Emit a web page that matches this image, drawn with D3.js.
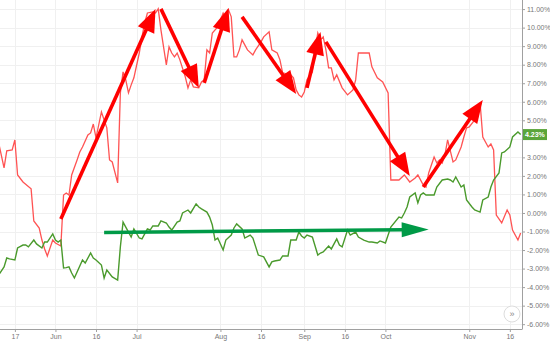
<!DOCTYPE html>
<html>
<head>
<meta charset="utf-8">
<script src="https://cdn.jsdelivr.net/npm/d3@7"></script>
<style>
  body { margin: 0; background: #fff; }
  svg { display: block; font-family: "Liberation Sans", Arial, sans-serif; }
</style>
</head>
<body>
<div id="chart"></div>
<script>
// Two performance series (percent change)
const redSeries = [
  ["2018-05-11",3.78],["2018-05-13",2.43],["2018-05-14",3.35],["2018-05-16",3.40],["2018-05-17",3.94],
  ["2018-05-18",2.05],["2018-05-20",1.67],["2018-05-23",1.30],["2018-05-24",-0.43],["2018-05-26",-0.81],
  ["2018-05-27",-1.46],["2018-05-28",-1.94],["2018-05-29",-2.32],["2018-05-31",-1.46],["2018-06-01",-1.62],
  ["2018-06-03",-1.78],["2018-06-04",0.97],["2018-06-05",1.08],["2018-06-06",0.97],["2018-06-07",2.05],
  ["2018-06-09",2.86],["2018-06-10",3.29],["2018-06-11",3.56],["2018-06-13",4.21],["2018-06-14",4.32],
  ["2018-06-15",4.80],["2018-06-16",4.05],["2018-06-18",5.45],["2018-06-20",4.59],["2018-06-21",2.86],
  ["2018-06-22",2.75],["2018-06-24",1.62],["2018-06-25",6.48],["2018-06-26",7.61],["2018-06-27",7.18],
  ["2018-06-28",6.48],["2018-06-29",6.91],["2018-06-30",7.29],["2018-07-02",8.63],["2018-07-03",9.50],
  ["2018-07-04",10.25],["2018-07-05",10.79],["2018-07-07",10.85],["2018-07-08",10.79],["2018-07-09",11.01],
  ["2018-07-10",9.88],["2018-07-12",7.99],["2018-07-13",8.96],["2018-07-14",8.63],["2018-07-15",8.42],
  ["2018-07-16",8.63],["2018-07-17",8.26],["2018-07-19",7.34],["2018-07-20",6.75],["2018-07-21",7.18],
  ["2018-07-22",6.80],["2018-07-24",6.75],["2018-07-25",7.07],["2018-07-26",7.18],["2018-07-27",8.80],
  ["2018-07-28",8.63],["2018-07-29",9.71],["2018-07-31",10.04],["2018-08-02",10.79],["2018-08-03",10.52],
  ["2018-08-04",10.96],["2018-08-05",10.58],["2018-08-06",8.42],["2018-08-07",8.42],["2018-08-08",8.80],
  ["2018-08-09",9.34],["2018-08-11",8.80],["2018-08-13",8.53],["2018-08-14",8.80],["2018-08-16",9.23],
  ["2018-08-17",9.50],["2018-08-19",9.77],["2018-08-20",8.80],["2018-08-22",8.63],["2018-08-23",8.26],
  ["2018-08-24",7.56],["2018-08-27",7.45],["2018-08-28",7.29],["2018-08-29",6.64],["2018-08-30",6.37],
  ["2018-08-31",6.26],["2018-09-01",6.53],["2018-09-02",7.18],["2018-09-04",7.61],["2018-09-05",8.80],
  ["2018-09-06",9.71],["2018-09-07",9.34],["2018-09-08",9.50],["2018-09-09",8.80],["2018-09-10",7.83],
  ["2018-09-11",7.83],["2018-09-12",7.18],["2018-09-13",7.45],["2018-09-15",6.75],["2018-09-17",6.37],
  ["2018-09-19",6.64],["2018-09-20",7.18],["2018-09-21",8.63],["2018-09-23",8.63],["2018-09-25",8.63],
  ["2018-09-26",7.88],["2018-09-28",7.29],["2018-09-30",7.07],["2018-10-02",6.48],["2018-10-03",1.78],
  ["2018-10-06",1.78],["2018-10-08",2.05],["2018-10-10",1.67],["2018-10-12",1.89],["2018-10-13",2.05],
  ["2018-10-15",1.51],["2018-10-16",1.40],["2018-10-17",2.16],["2018-10-19",3.02],["2018-10-20",2.70],
  ["2018-10-21",2.86],["2018-10-22",2.70],["2018-10-23",3.13],["2018-10-24",3.94],["2018-10-26",2.75],
  ["2018-10-27",2.86],["2018-10-29",3.56],["2018-10-30",4.10],["2018-10-31",4.59],["2018-11-01",4.64],
  ["2018-11-03",5.02],["2018-11-04",5.56],["2018-11-05",5.94],["2018-11-06",4.10],["2018-11-08",3.56],
  ["2018-11-09",3.72],["2018-11-10",3.40],["2018-11-11",-0.11],["2018-11-13",-0.54],["2018-11-15",0.16],
  ["2018-11-16",-0.11],["2018-11-17",-0.92],["2018-11-19",-1.46],["2018-11-20",-1.08]
];

const greenSeries = [
  ["2018-05-11",-3.35],["2018-05-13",-2.91],["2018-05-14",-2.43],["2018-05-15",-2.48],["2018-05-17",-2.54],
  ["2018-05-18",-1.89],["2018-05-20",-1.73],["2018-05-21",-1.73],["2018-05-22",-1.83],["2018-05-24",-1.46],
  ["2018-05-25",-1.67],["2018-05-27",-1.89],["2018-05-28",-1.57],["2018-05-29",-1.57],["2018-05-31",-1.13],
  ["2018-06-01",-1.46],["2018-06-02",-1.57],["2018-06-03",-1.46],["2018-06-04",-2.97],["2018-06-05",-2.95],
  ["2018-06-06",-2.91],["2018-06-07",-3.24],["2018-06-08",-3.51],["2018-06-09",-3.18],["2018-06-11",-2.54],
  ["2018-06-12",-2.70],["2018-06-14",-2.16],["2018-06-15",-2.43],["2018-06-16",-2.54],["2018-06-18",-2.81],
  ["2018-06-19",-3.51],["2018-06-20",-3.08],["2018-06-22",-3.45],["2018-06-24",-3.62],["2018-06-25",-1.83],
  ["2018-06-26",-0.49],["2018-06-27",-0.76],["2018-06-28",-1.03],["2018-06-29",-1.30],["2018-06-30",-0.86],
  ["2018-07-02",-1.35],["2018-07-03",-1.40],["2018-07-05",-0.86],["2018-07-06",-0.92],["2018-07-07",-0.70],
  ["2018-07-09",-0.70],["2018-07-10",-0.43],["2018-07-12",-0.54],["2018-07-13",-0.76],["2018-07-14",-0.92],
  ["2018-07-16",-0.49],["2018-07-17",-0.43],["2018-07-18",0.00],["2018-07-20",0.16],["2018-07-21",0.00],
  ["2018-07-23",0.49],["2018-07-24",0.32],["2018-07-25",0.22],["2018-07-27",0.05],["2018-07-28",-0.22],
  ["2018-07-29",-0.65],["2018-07-30",-1.46],["2018-07-31",-1.35],["2018-08-02",-2.00],["2018-08-03",-1.46],
  ["2018-08-05",-1.19],["2018-08-06",-0.81],["2018-08-07",-0.59],["2018-08-09",-0.86],["2018-08-10",-1.35],
  ["2018-08-12",-1.19],["2018-08-13",-1.35],["2018-08-15",-2.27],["2018-08-17",-2.37],["2018-08-19",-2.91],
  ["2018-08-20",-2.64],["2018-08-21",-2.59],["2018-08-23",-2.54],["2018-08-24",-2.32],["2018-08-26",-2.32],
  ["2018-08-27",-1.46],["2018-08-29",-1.46],["2018-08-30",-1.03],["2018-08-31",-1.24],["2018-09-01",-1.35],
  ["2018-09-02",-1.19],["2018-09-04",-1.30],["2018-09-06",-2.27],["2018-09-07",-2.16],["2018-09-08",-2.10],
  ["2018-09-09",-1.94],["2018-09-10",-1.78],["2018-09-11",-1.94],["2018-09-13",-1.40],["2018-09-14",-1.73],
  ["2018-09-15",-1.83],["2018-09-17",-0.92],["2018-09-18",-1.19],["2018-09-20",-1.03],["2018-09-21",-1.30],
  ["2018-09-23",-1.46],["2018-09-25",-1.57],["2018-09-26",-1.57],["2018-09-28",-1.62],["2018-09-29",-1.51],
  ["2018-10-01",-1.62],["2018-10-02",-1.19],["2018-10-03",-0.76],["2018-10-06",-0.22],["2018-10-07",-0.27],
  ["2018-10-08",0.00],["2018-10-09",0.32],["2018-10-10",0.86],["2018-10-12",1.08],["2018-10-13",0.54],
  ["2018-10-14",0.97],["2018-10-15",1.08],["2018-10-16",0.97],["2018-10-19",0.97],["2018-10-20",1.40],
  ["2018-10-22",1.78],["2018-10-24",1.83],["2018-10-25",1.78],["2018-10-26",1.67],["2018-10-27",1.94],
  ["2018-10-29",1.40],["2018-10-30",1.51],["2018-10-31",0.70],["2018-11-02",0.32],["2018-11-03",0.16],
  ["2018-11-05",0.05],["2018-11-06",0.70],["2018-11-08",0.86],["2018-11-09",1.40],["2018-11-10",1.78],
  ["2018-11-12",2.16],["2018-11-13",3.24],["2018-11-14",3.29],["2018-11-16",3.56],["2018-11-17",4.10],
  ["2018-11-19",4.37],["2018-11-20",4.23]
];

// Trend arrows drawn over the chart: [start, tip]
const redArrows = [
  [["2018-06-03",-0.32],["2018-07-08",11.00]],
  [["2018-07-10",11.01],["2018-07-24",6.75]],
  [["2018-07-26",7.02],["2018-08-04",11.06]],
  [["2018-08-09",10.58],["2018-08-29",6.42]],
  [["2018-09-02",6.75],["2018-09-07",9.77]],
  [["2018-09-09",9.23],["2018-10-10",2.00]],
  [["2018-10-15",1.40],["2018-11-06",6.10]]
];
const greenArrow = [["2018-06-19",-1.05],["2018-10-17",-0.89]];

const xTickDates = ["2018-05-17","2018-06-01","2018-06-16","2018-07-01","2018-08-01","2018-08-16",
                    "2018-09-01","2018-09-16","2018-10-01","2018-11-01","2018-11-16"];
const yTickValues = [-6,-5,-4,-3,-2,-1,0,1,2,3,4,5,6,7,8,9,10,11];
const lastValue = 4.23;

const W = 550, H = 341;
const plotW = 522, plotH = 329;
const parse = d3.timeParse("%Y-%m-%d");

const svg = d3.select("#chart").append("svg").attr("width", W).attr("height", H);

const x = d3.scaleTime()
  .domain([new Date(2018, 4, 11, 12), new Date(2018, 10, 20, 12)])
  .range([0, plotW]);
const y = d3.scaleLinear().domain([-6.26, 11.49]).range([plotH, 0]);

svg.append("defs").append("clipPath").attr("id", "plot")
  .append("rect").attr("width", plotW).attr("height", plotH);

// grid
const grid = svg.append("g");
grid.selectAll(".hg").data(yTickValues).enter().append("line")
  .attr("x1", 0).attr("x2", plotW)
  .attr("y1", d => Math.round(y(d)) + 0.5).attr("y2", d => Math.round(y(d)) + 0.5)
  .attr("stroke", "#f0f0f0");
grid.selectAll(".vg").data(xTickDates.map(parse)).enter().append("line")
  .attr("x1", d => Math.round(x(d)) + 0.5).attr("x2", d => Math.round(x(d)) + 0.5)
  .attr("y1", 0).attr("y2", plotH)
  .attr("stroke", "#f0f0f0");

const line = d3.line().x(d => x(parse(d[0]))).y(d => y(d[1]));
const plot = svg.append("g").attr("clip-path", "url(#plot)");

plot.append("path").datum(redSeries)
  .attr("fill", "none").attr("stroke", "#ff4040").attr("stroke-width", 1.3)
  .attr("stroke-opacity", 0.9).attr("d", line);
plot.append("path").datum(greenSeries)
  .attr("fill", "none").attr("stroke", "#4a9a2c").attr("stroke-width", 1.4).attr("d", line);

// draws a shaft plus a triangular head ending at the tip
function arrow(g, a, color, headLen, headHalf, width) {
  const x0 = x(parse(a[0][0])), y0 = y(a[0][1]);
  const x1 = x(parse(a[1][0])), y1 = y(a[1][1]);
  const len = Math.hypot(x1 - x0, y1 - y0);
  const ux = (x1 - x0) / len, uy = (y1 - y0) / len;
  const bx = x1 - ux * headLen, by = y1 - uy * headLen;
  g.append("line")
    .attr("x1", x0).attr("y1", y0).attr("x2", bx + ux * 2).attr("y2", by + uy * 2)
    .attr("stroke", color).attr("stroke-width", width);
  g.append("path")
    .attr("d", `M${x1},${y1}L${bx - uy * headHalf},${by + ux * headHalf}L${bx + uy * headHalf},${by - ux * headHalf}Z`)
    .attr("fill", color);
}

const arrows = svg.append("g");
redArrows.forEach(a => arrow(arrows, a, "#ff0000", 23, 9, 3.6));
arrow(arrows, greenArrow, "#009a47", 27, 7.5, 3.6);

// right axis (the 4.00% label sits under the last-value badge, so it is left out)
const yAxis = svg.append("g").attr("transform", `translate(${plotW},0)`)
  .call(d3.axisRight(y).tickValues(yTickValues).tickSize(3).tickPadding(2)
    .tickFormat(d => d === 4 ? "" : d.toFixed(2) + "%"));
yAxis.select(".domain").attr("stroke", "#a0a0a0").attr("d", `M0.5,0V${plotH}`);
yAxis.selectAll(".tick line").attr("stroke", "#a0a0a0");
yAxis.selectAll(".tick text").attr("fill", "#777").attr("font-size", 7).attr("font-family", null);

// bottom axis
const fmt = d => d.getDate() === 1 ? d3.timeFormat("%b")(d) : d3.timeFormat("%-d")(d);
const xAxis = svg.append("g").attr("transform", `translate(0,${plotH})`)
  .call(d3.axisBottom(x).tickValues(xTickDates.map(parse)).tickSize(3).tickPadding(2).tickFormat(fmt));
xAxis.select(".domain").attr("stroke", "#a0a0a0").attr("d", `M0,0.5H${plotW + 0.5}`);
xAxis.selectAll(".tick line").attr("stroke", "#a0a0a0");
xAxis.selectAll(".tick text").attr("fill", "#777").attr("font-size", 7).attr("font-family", null);

// last value badge
const ly = y(lastValue);
svg.append("rect").attr("x", plotW + 1).attr("y", ly - 5.5).attr("width", 24).attr("height", 11)
  .attr("fill", "#5aa53a");
svg.append("text").attr("x", plotW + 3).attr("y", ly + 2.5)
  .attr("fill", "#fff").attr("font-size", 7).attr("font-weight", "bold")
  .text(lastValue.toFixed(2) + "%");

// scroll button
svg.append("circle").attr("cx", 512).attr("cy", 314).attr("r", 8)
  .attr("fill", "#fff").attr("stroke", "#ddd");
svg.append("text").attr("x", 512).attr("y", 317).attr("text-anchor", "middle")
  .attr("fill", "#888").attr("font-size", 9).text("»");
</script>
</body>
</html>
